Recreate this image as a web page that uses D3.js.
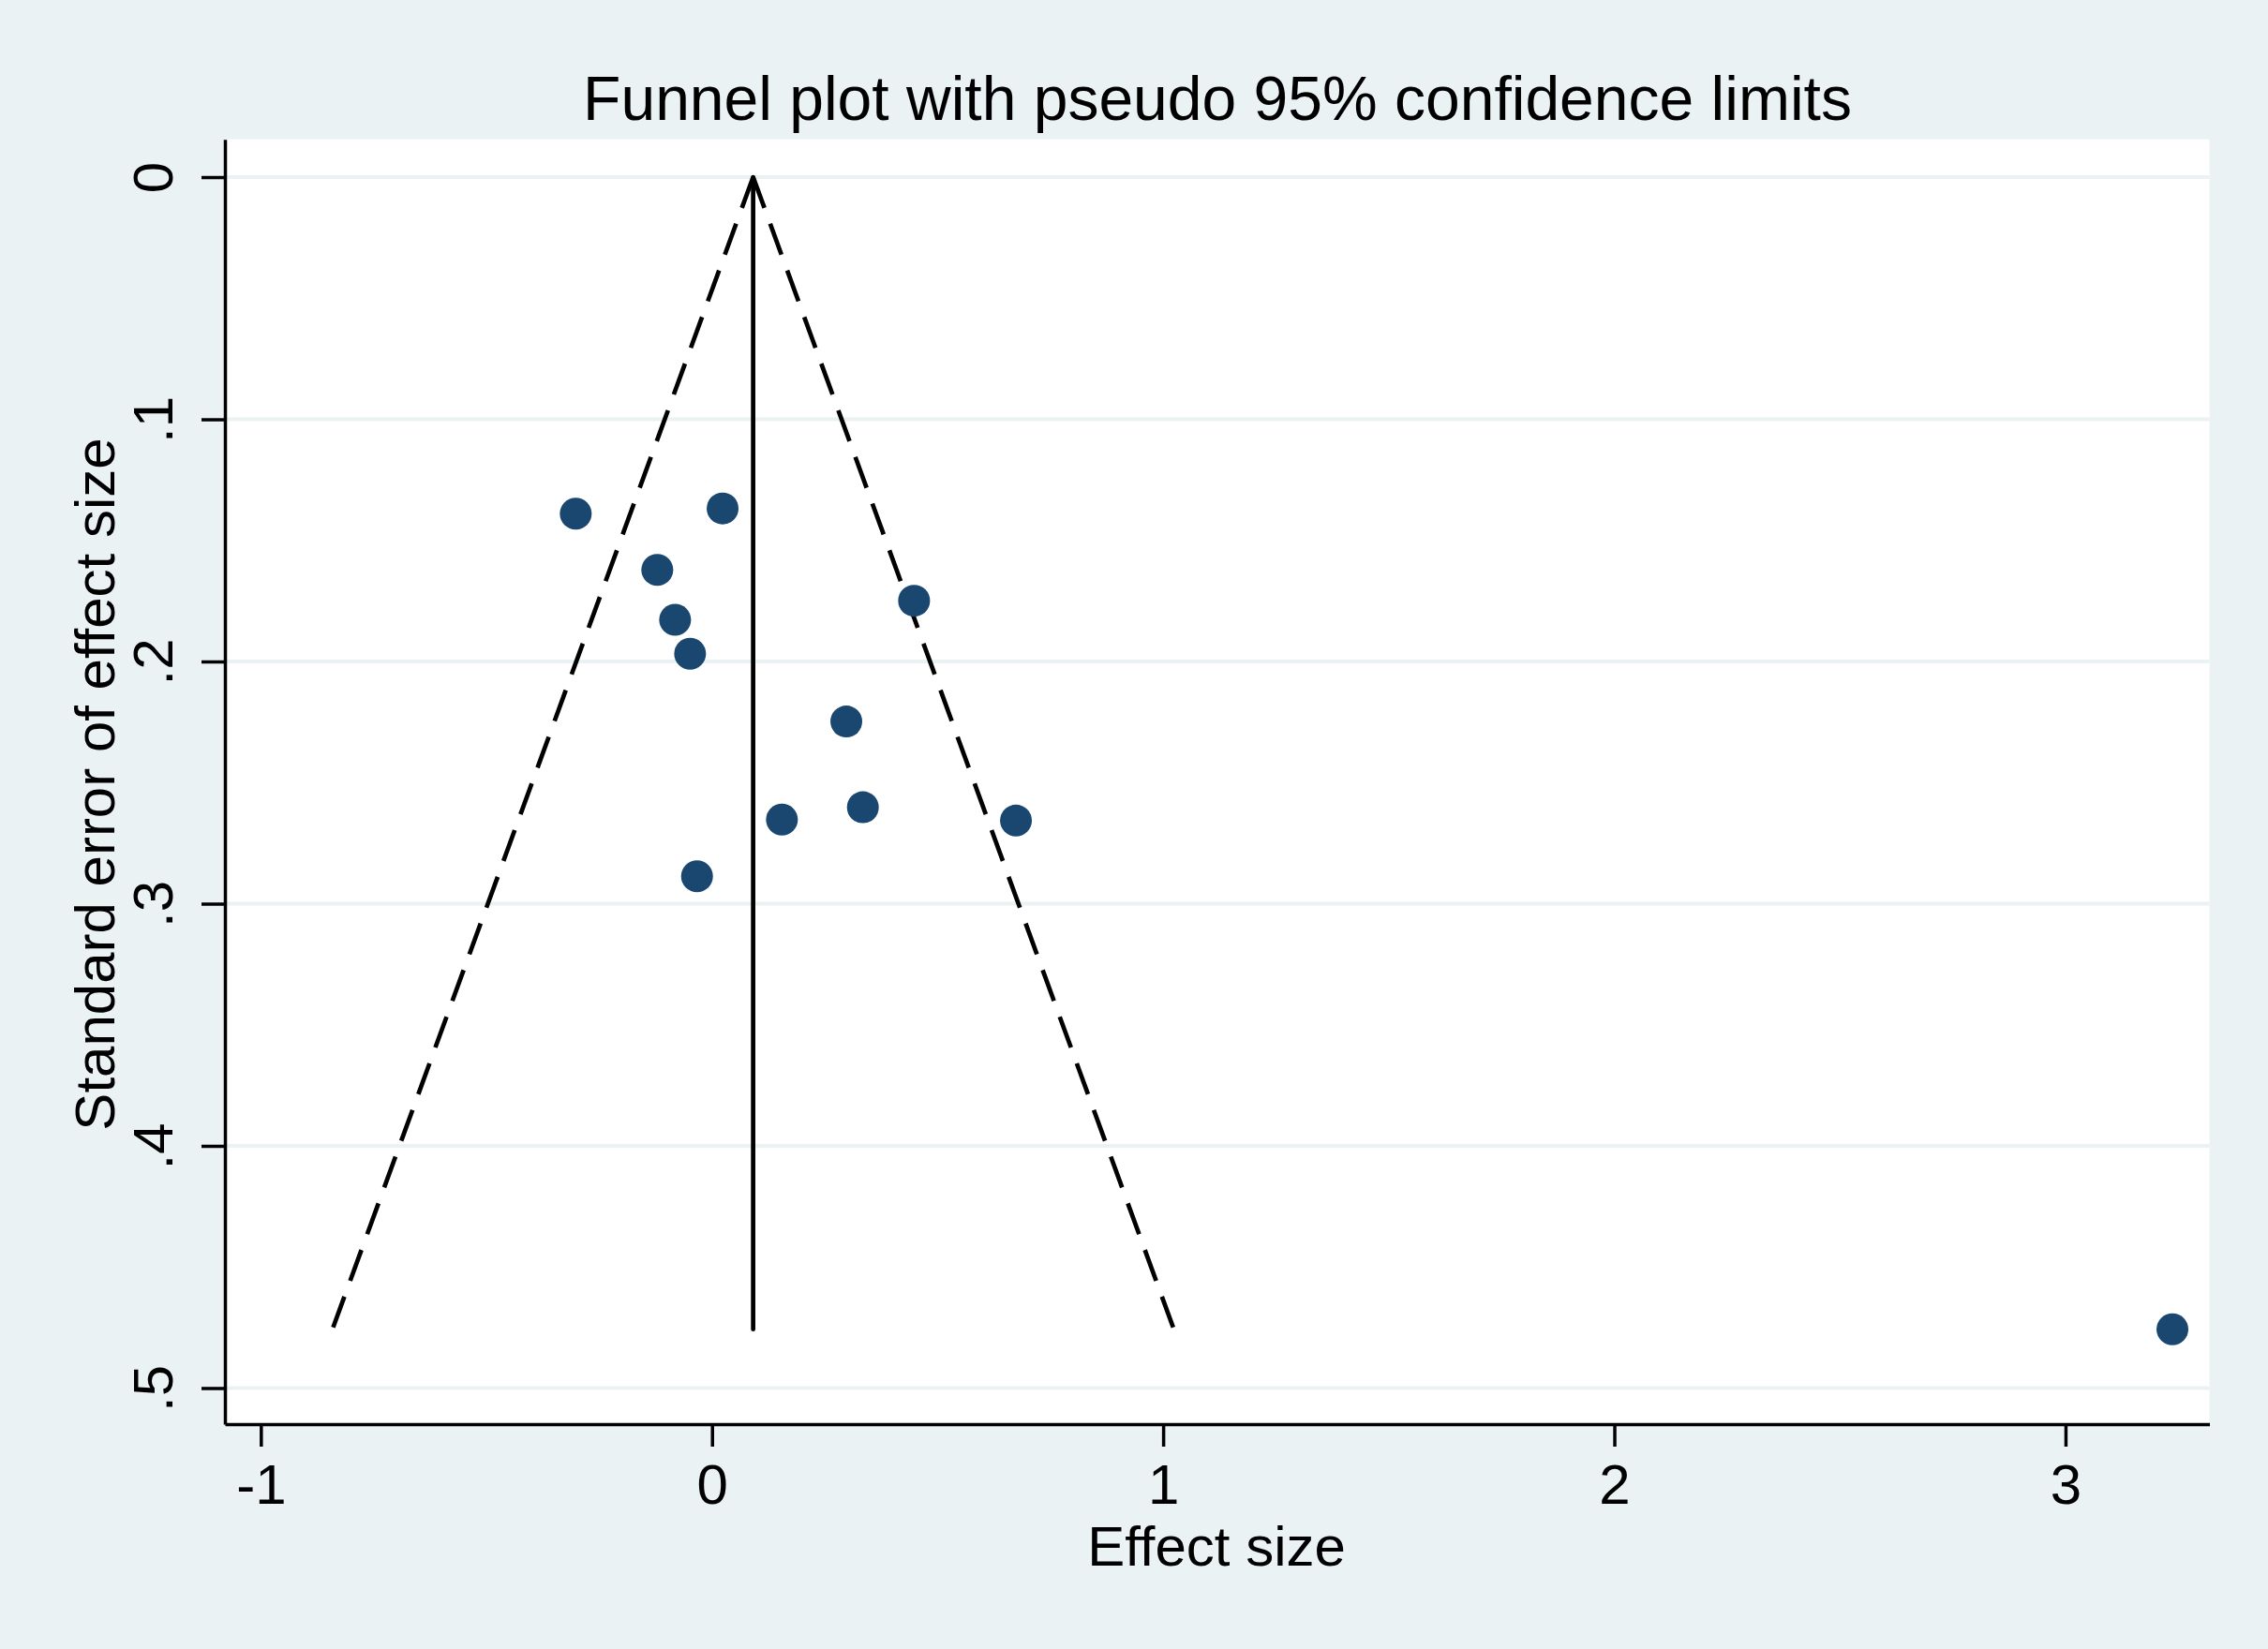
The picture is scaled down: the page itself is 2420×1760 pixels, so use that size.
<!DOCTYPE html>
<html>
<head>
<meta charset="utf-8">
<script src="https://cdn.jsdelivr.net/npm/d3@7"></script>
<style>
  html, body { margin: 0; padding: 0; background: #eaf2f3; }
  svg { display: block; font-family: "Liberation Sans", Arial, Helvetica, sans-serif; }
</style>
</head>
<body>
<svg id="chart" width="2420" height="1760"></svg>
<script>
// ---- data ----
const studyLabels = ["S1","S2","S3","S4","S5","S6","S7","S8","S9","S10","S11","S12"];
const effectSize = [-0.302, 0.0235, -0.1213, -0.0818, -0.0486, 0.4479, 0.2977, 0.155, 0.3344, 0.6737, -0.0332, 3.237];
const stdError   = [0.1390, 0.1368, 0.1622, 0.1828, 0.1968, 0.1749, 0.2248, 0.2653, 0.2602, 0.2657, 0.2887, 0.4757];
const pooledEffect = 0.0912;
const zCrit = 1.96;
const xTicks = [-1, 0, 1, 2, 3];
const xTickLabels = ["-1", "0", "1", "2", "3"];
const yTicks = [0, 0.1, 0.2, 0.3, 0.4, 0.5];
const yTickLabels = ["0", ".1", ".2", ".3", ".4", ".5"];
const titleText = "Funnel plot with pseudo 95% confidence limits";
const xTitle = "Effect size";
const yTitle = "Standard error of effect size";

// ---- layout ----
const W = 2420, H = 1760;
const plot = { left: 240, right: 2357.5, top: 148.7, bottom: 1520 };
const svg = d3.select("#chart");

svg.append("rect").attr("x", 0).attr("y", 0).attr("width", W).attr("height", H).attr("fill", "#eaf2f3");
svg.append("rect")
  .attr("x", plot.left).attr("y", plot.top)
  .attr("width", plot.right - plot.left).attr("height", plot.bottom - plot.top)
  .attr("fill", "#ffffff");

const x = d3.scaleLinear().domain([-1.0796, 3.319]).range([plot.left, plot.right]);
const y = d3.scaleLinear().domain([-0.0156, 0.5149]).range([plot.top, plot.bottom]);

// gridlines
svg.append("g").selectAll("line").data(yTicks).join("line")
  .attr("x1", plot.left).attr("x2", plot.right)
  .attr("y1", d => y(d)).attr("y2", d => y(d))
  .attr("stroke", "#eaf2f3").attr("stroke-width", 4);

// funnel limits (dashed)
const seMax = d3.max(stdError);
const funnelLeft = [[pooledEffect, 0], [pooledEffect - zCrit * seMax, seMax]];
const funnelRight = [[pooledEffect, 0], [pooledEffect + zCrit * seMax, seMax]];
const line = d3.line().x(d => x(d[0])).y(d => y(d[1]));
[funnelLeft, funnelRight].forEach(seg => {
  svg.append("path").attr("d", line(seg))
    .attr("fill", "none").attr("stroke", "#000").attr("stroke-width", 4.7)
    .attr("stroke-dasharray", "35,18");
});
// pooled effect line
svg.append("path").attr("d", line([[pooledEffect, 0], [pooledEffect, seMax]]))
  .attr("fill", "none").attr("stroke", "#000").attr("stroke-width", 4.7)
  .attr("stroke-linecap", "round");

// points
svg.append("g").selectAll("circle").data(effectSize.map((e, i) => ({ e, s: stdError[i], id: studyLabels[i] })))
  .join("circle")
  .attr("cx", d => x(d.e)).attr("cy", d => y(d.s)).attr("r", 17)
  .attr("fill", "#1a476f");

// x axis
const xAxis = svg.append("g").attr("transform", `translate(0,${plot.bottom})`)
  .call(d3.axisBottom(x).tickValues(xTicks).tickSize(24).tickSizeOuter(0)
    .tickFormat((d, i) => xTickLabels[i]));
xAxis.select(".domain").attr("stroke", "#000").attr("stroke-width", 3.5);
xAxis.selectAll(".tick line").attr("stroke", "#000").attr("stroke-width", 3.5);
xAxis.selectAll(".tick text").attr("font-size", 60).attr("fill", "#000")
  .attr("dy", null).attr("y", 85).attr("font-family", "Liberation Sans, Arial, sans-serif");

// y axis
const yAxis = svg.append("g").attr("transform", `translate(${plot.left},0)`)
  .call(d3.axisLeft(y).tickValues(yTicks).tickSize(25).tickSizeOuter(0)
    .tickFormat((d, i) => yTickLabels[i]));
yAxis.select(".domain").attr("stroke", "#000").attr("stroke-width", 3.5);
yAxis.selectAll(".tick line").attr("stroke", "#000").attr("stroke-width", 3.5);
yAxis.selectAll(".tick text")
  .attr("font-size", 60).attr("fill", "#000").attr("font-family", "Liberation Sans, Arial, sans-serif")
  .attr("x", null).attr("dy", null)
  .attr("text-anchor", "middle")
  .attr("transform", "translate(-56,0) rotate(-90)");

// titles
svg.append("text").attr("x", 1299).attr("y", 128).attr("text-anchor", "middle")
  .attr("font-size", 66).attr("fill", "#000").text(titleText);
svg.append("text").attr("x", 1298).attr("y", 1671).attr("text-anchor", "middle")
  .attr("font-size", 60).attr("fill", "#000").text(xTitle);
svg.append("text").attr("transform", "translate(122,837) rotate(-90)").attr("text-anchor", "middle")
  .attr("font-size", 60).attr("fill", "#000").text(yTitle);
</script>
</body>
</html>
